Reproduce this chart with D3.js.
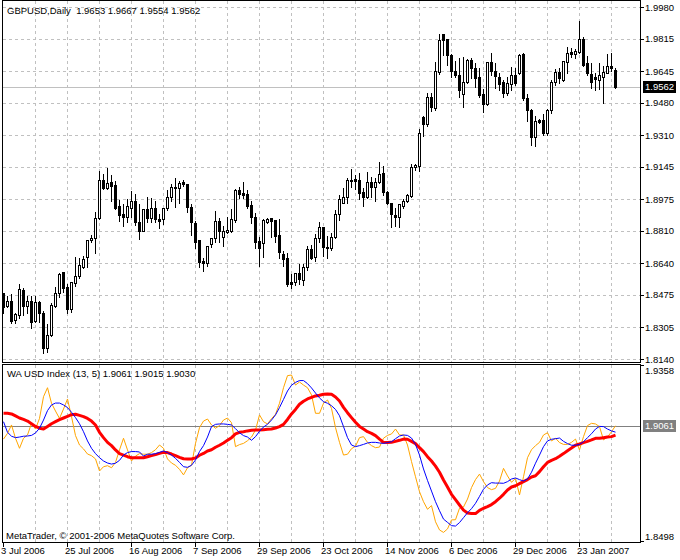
<!DOCTYPE html>
<html><head><meta charset="utf-8">
<script src="https://cdn.jsdelivr.net/npm/d3@7"></script>
<style>
body{margin:0;background:#fff}
svg{display:block}
text{font-family:'Liberation Sans',Arial,sans-serif;font-size:9.5px;fill:#000}
</style>
</head><body>
<svg id="chart" width="680" height="560"></svg>
<script>
const symbolTitle = "GBPUSD,Daily";
const lastOHLC = ["1.9653","1.9667","1.9554","1.9562"];
const indTitle = "WA USD Index (13, 5)";
const indLast = ["1.9061","1.9015","1.9030"];
const copyright = "MetaTrader, \u00a9 2001-2006 MetaQuotes Software Corp.";

const open = [
1.8485,1.8417,1.8443,1.8344,1.8370,1.8501,1.8419,1.8443,1.8340,1.8438,
1.8380,1.8198,1.8265,1.8419,1.8485,1.8595,1.8516,1.8401,1.8539,1.8575,
1.8622,1.8675,1.8762,1.8771,1.8875,1.9076,1.9035,1.9064,1.9050,1.8940,
1.8898,1.8884,1.8931,1.8966,1.8858,1.8811,1.8926,1.8875,1.8928,1.8872,
1.8872,1.8931,1.8988,1.9032,1.9032,1.9067,1.9055,1.8933,1.8852,1.8762,
1.8654,1.8640,1.8740,1.8771,1.8861,1.8776,1.8805,1.8811,1.8867,1.9023,
1.9006,1.9002,1.8945,1.8884,1.8757,1.8745,1.8855,1.8875,1.8867,1.8788,
1.8689,1.8666,1.8544,1.8544,1.8588,1.8553,1.8619,1.8715,1.8675,1.8771,
1.8828,1.8727,1.8722,1.8779,1.8896,1.8957,1.8985,1.9072,1.9081,1.9076,
1.9015,1.8985,1.9067,1.9041,1.9067,1.9114,1.9015,1.8954,1.8893,1.8884,
1.8941,1.8967,1.8994,1.9142,1.9149,1.9407,1.9368,1.9511,1.9450,1.9642,
1.9837,1.9811,1.9729,1.9647,1.9624,1.9524,1.9589,1.9703,1.9660,1.9612,
1.9524,1.9473,1.9691,1.9647,1.9612,1.9589,1.9532,1.9577,1.9623,1.9637,
1.9733,1.9503,1.9442,1.9302,1.9389,1.9389,1.9320,1.9442,1.9589,1.9642,
1.9598,1.9694,1.9743,1.9733,1.9746,1.9811,1.9686,1.9630,1.9612,1.9598,
1.9616,1.9637,1.9672,1.9653];

const high = [
1.8492,1.8475,1.8483,1.8387,1.8536,1.8518,1.8475,1.8475,1.8475,1.8448,
1.8396,1.8330,1.8440,1.8522,1.8596,1.8596,1.8539,1.8549,1.8678,1.8675,
1.8684,1.8766,1.8793,1.8914,1.9128,1.9111,1.9145,1.9107,1.9076,1.8975,
1.8954,1.8980,1.9023,1.9009,1.8954,1.8928,1.8992,1.8988,1.8971,1.8905,
1.8936,1.9027,1.9062,1.9090,1.9076,1.9081,1.9062,1.8954,1.8867,1.8767,
1.8675,1.8736,1.8779,1.8919,1.8884,1.8840,1.8888,1.8928,1.9035,1.9044,
1.9070,1.9027,1.8971,1.8910,1.8783,1.8879,1.8884,1.8881,1.8872,1.8875,
1.8710,1.8701,1.8591,1.8591,1.8640,1.8643,1.8736,1.8740,1.8800,1.8861,
1.8832,1.8788,1.8805,1.8922,1.9001,1.9041,1.9093,1.9137,1.9107,1.9119,
1.9041,1.9123,1.9098,1.9093,1.9175,1.9154,1.9023,1.8962,1.8936,1.8957,
1.8980,1.9009,1.9166,1.9166,1.9349,1.9415,1.9537,1.9537,1.9698,1.9842,
1.9842,1.9816,1.9738,1.9703,1.9717,1.9724,1.9712,1.9720,1.9694,1.9668,
1.9555,1.9698,1.9746,1.9694,1.9642,1.9602,1.9619,1.9672,1.9668,1.9738,
1.9746,1.9529,1.9450,1.9415,1.9398,1.9424,1.9450,1.9604,1.9660,1.9668,
1.9703,1.9776,1.9772,1.9764,1.9912,1.9828,1.9729,1.9694,1.9642,1.9694,
1.9677,1.9738,1.9746,1.9667];

const low = [
1.8382,1.8412,1.8327,1.8330,1.8353,1.8370,1.8379,1.8300,1.8335,1.8333,
1.8173,1.8178,1.8260,1.8413,1.8466,1.8492,1.8382,1.8387,1.8522,1.8562,
1.8614,1.8622,1.8753,1.8696,1.8870,1.9029,1.9027,1.8967,1.8922,1.8861,
1.8837,1.8855,1.8884,1.8840,1.8767,1.8809,1.8858,1.8858,1.8858,1.8826,
1.8846,1.8919,1.8966,1.8936,1.8954,1.9044,1.8910,1.8788,1.8719,1.8622,
1.8602,1.8626,1.8724,1.8753,1.8750,1.8731,1.8799,1.8805,1.8858,1.8980,
1.8980,1.8928,1.8849,1.8719,1.8626,1.8675,1.8849,1.8779,1.8750,1.8666,
1.8626,1.8522,1.8513,1.8527,1.8532,1.8527,1.8605,1.8661,1.8654,1.8753,
1.8678,1.8670,1.8710,1.8771,1.8867,1.8954,1.8954,1.9041,1.9029,1.8975,
1.8940,1.8980,1.8988,1.8967,1.9058,1.8997,1.8950,1.8832,1.8835,1.8832,
1.8931,1.8962,1.8988,1.9128,1.9124,1.9306,1.9358,1.9436,1.9442,1.9630,
1.9729,1.9677,1.9616,1.9616,1.9511,1.9459,1.9584,1.9607,1.9563,1.9511,
1.9430,1.9468,1.9624,1.9555,1.9546,1.9508,1.9520,1.9546,1.9572,1.9630,
1.9494,1.9386,1.9259,1.9255,1.9372,1.9311,1.9311,1.9424,1.9572,1.9581,
1.9593,1.9633,1.9720,1.9712,1.9740,1.9672,1.9624,1.9555,1.9546,1.9550,
1.9477,1.9633,1.9647,1.9554];

const close = [
1.8413,1.8443,1.8339,1.8375,1.8506,1.8417,1.8442,1.8333,1.8440,1.8380,
1.8198,1.8265,1.8422,1.8483,1.8584,1.8511,1.8401,1.8543,1.8575,1.8630,
1.8663,1.8762,1.8771,1.8875,1.9076,1.9035,1.9058,1.9044,1.8931,1.8893,
1.8884,1.8940,1.8966,1.8855,1.8811,1.8922,1.8875,1.8928,1.8872,1.8863,
1.8931,1.8988,1.9038,1.9041,1.9058,1.9053,1.8933,1.8855,1.8753,1.8649,
1.8643,1.8732,1.8771,1.8861,1.8811,1.8809,1.8814,1.8870,1.9023,1.9001,
1.8997,1.8940,1.8884,1.8753,1.8722,1.8867,1.8873,1.8863,1.8785,1.8701,
1.8663,1.8532,1.8532,1.8588,1.8557,1.8619,1.8715,1.8666,1.8771,1.8828,
1.8724,1.8722,1.8779,1.8896,1.8975,1.8985,1.9076,1.9076,1.9072,1.9009,
1.8988,1.9067,1.9041,1.9067,1.9105,1.9015,1.8954,1.8896,1.8881,1.8949,
1.8967,1.8997,1.9145,1.9154,1.9320,1.9368,1.9511,1.9456,1.9647,1.9807,
1.9807,1.9729,1.9647,1.9624,1.9546,1.9589,1.9703,1.9660,1.9607,1.9520,
1.9473,1.9694,1.9645,1.9619,1.9577,1.9532,1.9581,1.9623,1.9581,1.9729,
1.9503,1.9442,1.9302,1.9386,1.9380,1.9323,1.9442,1.9589,1.9642,1.9607,
1.9698,1.9738,1.9733,1.9750,1.9813,1.9677,1.9633,1.9589,1.9602,1.9624,
1.9642,1.9672,1.9660,1.9562];

const waIndex = [
1.8996,1.9024,1.9065,1.9000,1.8951,1.9000,1.9016,1.9073,1.9045,1.9097,
1.9203,1.9247,1.9171,1.9133,1.9097,1.9143,1.9192,1.9106,1.9013,1.8967,
1.8948,1.8923,1.8915,1.8899,1.8840,1.8861,1.8866,1.8856,1.8882,1.8943,
1.9000,1.8943,1.8889,1.8913,1.8925,1.8922,1.8922,1.8930,1.8944,1.8967,
1.8951,1.8899,1.8879,1.8868,1.8848,1.8821,1.8856,1.8868,1.8975,1.9052,
1.9084,1.9094,1.9065,1.9049,1.9062,1.9089,1.9099,1.9076,1.8959,1.8969,
1.8975,1.8988,1.9006,1.9040,1.9114,1.9081,1.9070,1.9096,1.9117,1.9171,
1.9247,1.9306,1.9309,1.9260,1.9275,1.9260,1.9247,1.9212,1.9122,1.9122,
1.9171,1.9187,1.9146,1.9052,1.8980,1.8918,1.8922,1.8949,1.8961,1.9003,
1.9008,1.8980,1.8964,1.8954,1.8957,1.9000,1.9014,1.9021,1.9045,1.9016,
1.9016,1.8967,1.8886,1.8812,1.8739,1.8690,1.8653,1.8671,1.8592,1.8552,
1.8540,1.8557,1.8601,1.8602,1.8658,1.8664,1.8703,1.8759,1.8798,1.8825,
1.8788,1.8759,1.8749,1.8755,1.8791,1.8853,1.8816,1.8785,1.8804,1.8723,
1.8812,1.8905,1.8944,1.8964,1.8980,1.9016,1.9027,1.8987,1.9000,1.8979,
1.8970,1.8970,1.8980,1.8996,1.8943,1.9008,1.9062,1.9073,1.9070,1.9057,
1.8992,1.9006,1.9032,1.9061];

const waSlow = [
1.9122,1.9122,1.9119,1.9109,1.9099,1.9092,1.9084,1.9071,1.9058,1.9049,
1.9045,1.9058,1.9071,1.9081,1.9091,1.9099,1.9107,1.9115,1.9117,1.9112,
1.9106,1.9097,1.9084,1.9065,1.9029,1.9003,1.8980,1.8964,1.8943,1.8925,
1.8918,1.8910,1.8905,1.8905,1.8905,1.8905,1.8910,1.8915,1.8920,1.8926,
1.8931,1.8930,1.8923,1.8915,1.8907,1.8900,1.8899,1.8899,1.8904,1.8917,
1.8926,1.8938,1.8944,1.8956,1.8966,1.8977,1.8990,1.9003,1.9021,1.9029,
1.9032,1.9036,1.9039,1.9040,1.9040,1.9042,1.9044,1.9045,1.9050,1.9057,
1.9068,1.9092,1.9119,1.9141,1.9166,1.9181,1.9192,1.9200,1.9207,1.9210,
1.9215,1.9216,1.9215,1.9202,1.9182,1.9151,1.9125,1.9101,1.9078,1.9058,
1.9045,1.9032,1.9024,1.9013,1.8996,1.8980,1.8979,1.8980,1.8985,1.8990,
1.8996,1.8995,1.8985,1.8974,1.8954,1.8935,1.8910,1.8889,1.8864,1.8834,
1.8796,1.8762,1.8726,1.8700,1.8674,1.8649,1.8635,1.8632,1.8632,1.8648,
1.8658,1.8666,1.8676,1.8690,1.8707,1.8726,1.8747,1.8762,1.8768,1.8778,
1.8788,1.8798,1.8811,1.8817,1.8837,1.8861,1.8882,1.8892,1.8900,1.8912,
1.8925,1.8939,1.8952,1.8966,1.8972,1.8979,1.8985,1.8992,1.9000,1.9000,
1.9003,1.9006,1.9008,1.9015];

const waFast = [
1.9081,1.9029,1.9010,1.9003,1.9006,1.9010,1.9011,1.9014,1.9026,1.9049,
1.9089,1.9135,1.9163,1.9172,1.9172,1.9163,1.9150,1.9127,1.9101,1.9071,
1.9032,1.8987,1.8951,1.8925,1.8905,1.8889,1.8879,1.8874,1.8878,1.8892,
1.8918,1.8930,1.8935,1.8935,1.8933,1.8913,1.8922,1.8922,1.8925,1.8931,
1.8938,1.8930,1.8918,1.8902,1.8882,1.8861,1.8858,1.8868,1.8894,1.8935,
1.8964,1.9006,1.9057,1.9068,1.9070,1.9070,1.9068,1.9065,1.9047,1.9027,
1.9013,1.9006,1.8990,1.9008,1.9034,1.9055,1.9068,1.9089,1.9114,1.9150,
1.9190,1.9231,1.9259,1.9273,1.9282,1.9282,1.9267,1.9246,1.9221,1.9197,
1.9179,1.9171,1.9159,1.9141,1.9110,1.9057,1.9003,1.8967,1.8959,1.8964,
1.8970,1.8977,1.8980,1.8980,1.8977,1.8975,1.8979,1.8983,1.8998,1.9011,
1.9016,1.9014,1.9001,1.8970,1.8918,1.8850,1.8794,1.8742,1.8690,1.8646,
1.8605,1.8589,1.8573,1.8571,1.8588,1.8612,1.8636,1.8656,1.8682,1.8716,
1.8751,1.8772,1.8783,1.8781,1.8781,1.8780,1.8788,1.8801,1.8806,1.8798,
1.8791,1.8801,1.8834,1.8878,1.8918,1.8959,1.8987,1.8995,1.8998,1.9001,
1.8985,1.8974,1.8966,1.8966,1.8970,1.8983,1.9003,1.9022,1.9045,1.9058,
1.9057,1.9045,1.9036,1.9030];

const priceTicks = ["1.9980","1.9815","1.9645","1.9480","1.9310","1.9145","1.8975","1.8810","1.8640","1.8475","1.8305","1.8140"];
const indTicks = ["1.9358","1.8498"];
const dateLabels = ["3 Jul 2006","25 Jul 2006","16 Aug 2006","7 Sep 2006","29 Sep 2006","23 Oct 2006","14 Nov 2006","6 Dec 2006","29 Dec 2006","23 Jan 2007"];
const dateBars = [0,16,32,48,64,80,96,112,128,144];
const gridBars = [8,16,24,32,40,48,56,64,72,80,88,96,104,112,120,128,136,144,152];
const lastPrice = 1.9562;
const indLevel = 1.9061;

const svg = d3.select("#chart");
const n = Math.min(open.length, high.length, low.length, close.length);

const x = d3.scaleLinear().domain([0, 153]).range([3.5, 615.5]);
const yP = d3.scaleLinear().domain([1.8140, 1.9980]).range([359, 7]);
const yI = d3.scaleLinear().domain([1.8498, 1.9358]).range([541, 365]);
const snap = v => Math.round(v) + 0.5;

const L = 2.5, R = 640.5, mainTop = 0.5, mainBot = 362.5, indTop = 364.5, indBot = 542.5;
const gridColor = "#c0c0c0";

const g = svg.append("g").attr("shape-rendering", "crispEdges");

// grids main
g.selectAll(".hg").data(priceTicks).enter().append("line")
  .attr("x1", L).attr("x2", R)
  .attr("y1", d => snap(yP(+d))).attr("y2", d => snap(yP(+d)))
  .attr("stroke", gridColor).attr("stroke-dasharray", "3,3");
g.selectAll(".vg").data(gridBars).enter().append("line")
  .attr("x1", d => x(d)).attr("x2", d => x(d))
  .attr("y1", mainTop).attr("y2", mainBot)
  .attr("stroke", gridColor).attr("stroke-dasharray", "3,3");
g.selectAll(".vg2").data(gridBars).enter().append("line")
  .attr("x1", d => x(d)).attr("x2", d => x(d))
  .attr("y1", indTop).attr("y2", indBot)
  .attr("stroke", gridColor).attr("stroke-dasharray", "3,3");

// bid line
g.append("line").attr("x1", L).attr("x2", R)
  .attr("y1", snap(yP(lastPrice))).attr("y2", snap(yP(lastPrice)))
  .attr("stroke", "#c0c0c0");

// candles
const idx = d3.range(n);
g.selectAll(".wick").data(idx).enter().append("line")
  .attr("x1", i => x(i)).attr("x2", i => x(i))
  .attr("y1", i => snap(yP(high[i]))).attr("y2", i => snap(yP(low[i])))
  .attr("stroke", "#000");
g.selectAll(".body").data(idx).enter().append("path")
  .attr("d", i => {
    const t = snap(yP(Math.max(open[i], close[i])));
    const b = snap(yP(Math.min(open[i], close[i])));
    const x0 = x(i) - 1;
    return `M${x0},${t}H${x0 + 2}V${b}H${x0}Z`;
  })
  .attr("fill", i => close[i] >= open[i] ? "#fff" : "#000")
  .attr("stroke", "#000");

// indicator
g.append("line").attr("x1", L).attr("x2", R)
  .attr("y1", snap(yI(indLevel))).attr("y2", snap(yI(indLevel)))
  .attr("stroke", "#808080");

const clip = svg.append("clipPath").attr("id", "ic").append("rect")
  .attr("x", 3).attr("y", 365).attr("width", 637).attr("height", 177);
const lg = svg.append("g").attr("clip-path", "url(#ic)");
const line = arr => d3.line().x((d, i) => x(i)).y(d => yI(d))(arr);
lg.append("path").attr("d", line(waIndex)).attr("fill", "none").attr("stroke", "#ffa500").attr("stroke-width", 1);
lg.append("path").attr("d", line(waSlow)).attr("fill", "none").attr("stroke", "#ff0000").attr("stroke-width", 3).attr("stroke-linejoin", "round");
lg.append("path").attr("d", line(waFast)).attr("fill", "none").attr("stroke", "#0000ff").attr("stroke-width", 1);

// frames
g.append("rect").attr("x", L).attr("y", mainTop).attr("width", R - L).attr("height", mainBot - mainTop)
  .attr("fill", "none").attr("stroke", "#000");
g.append("rect").attr("x", L).attr("y", indTop).attr("width", R - L).attr("height", indBot - indTop)
  .attr("fill", "none").attr("stroke", "#000");

// right axis ticks + labels
g.selectAll(".rt").data(priceTicks).enter().append("line")
  .attr("x1", R).attr("x2", R + 3)
  .attr("y1", d => snap(yP(+d))).attr("y2", d => snap(yP(+d)))
  .attr("stroke", "#000");
svg.selectAll(".pl").data(priceTicks).enter().append("text")
  .attr("x", 645).attr("y", d => yP(+d) + 3.5).text(d => d);
g.selectAll(".it").data(indTicks).enter().append("line")
  .attr("x1", R).attr("x2", R + 3)
  .attr("y1", d => snap(yI(+d))).attr("y2", d => snap(yI(+d)))
  .attr("stroke", "#000");
svg.append("text").attr("x", 645).attr("y", yI(+indTicks[0]) + 8.5).text(indTicks[0]);
svg.append("text").attr("x", 645).attr("y", yI(+indTicks[1]) - 1.5).text(indTicks[1]);

// last price boxes
const yl = yP(lastPrice);
svg.append("rect").attr("x", 643).attr("y", Math.round(yl) - 6).attr("width", 33).attr("height", 12).attr("fill", "#000");
svg.append("text").attr("x", 645).attr("y", yl + 3.5).attr("fill", "#fff").style("fill", "#fff").text(lastPrice.toFixed(4));
const yil = yI(indLevel);
svg.append("rect").attr("x", 643).attr("y", Math.round(yil) - 6).attr("width", 33).attr("height", 12).attr("fill", "#808080");
svg.append("text").attr("x", 645).attr("y", yil + 3.5).style("fill", "#fff").text(indLevel.toFixed(4));

// date axis
g.selectAll(".dt").data(dateBars).enter().append("line")
  .attr("x1", d => x(d)).attr("x2", d => x(d))
  .attr("y1", indBot).attr("y2", indBot + 4)
  .attr("stroke", "#000");
svg.selectAll(".dl").data(dateBars).enter().append("text")
  .attr("x", d => x(d) - 2.5).attr("y", 554).text((d, i) => dateLabels[i]);

// titles
svg.append("text").attr("x", 7).attr("y", 13.5).style("white-space", "pre")
  .text(symbolTitle + "  " + lastOHLC.join(" "));
svg.append("text").attr("x", 7).attr("y", 376.5).style("white-space", "pre")
  .text(indTitle + " " + indLast.join(" "));
svg.append("text").attr("x", 6).attr("y", 538.5).text(copyright);
</script>
</body></html>
